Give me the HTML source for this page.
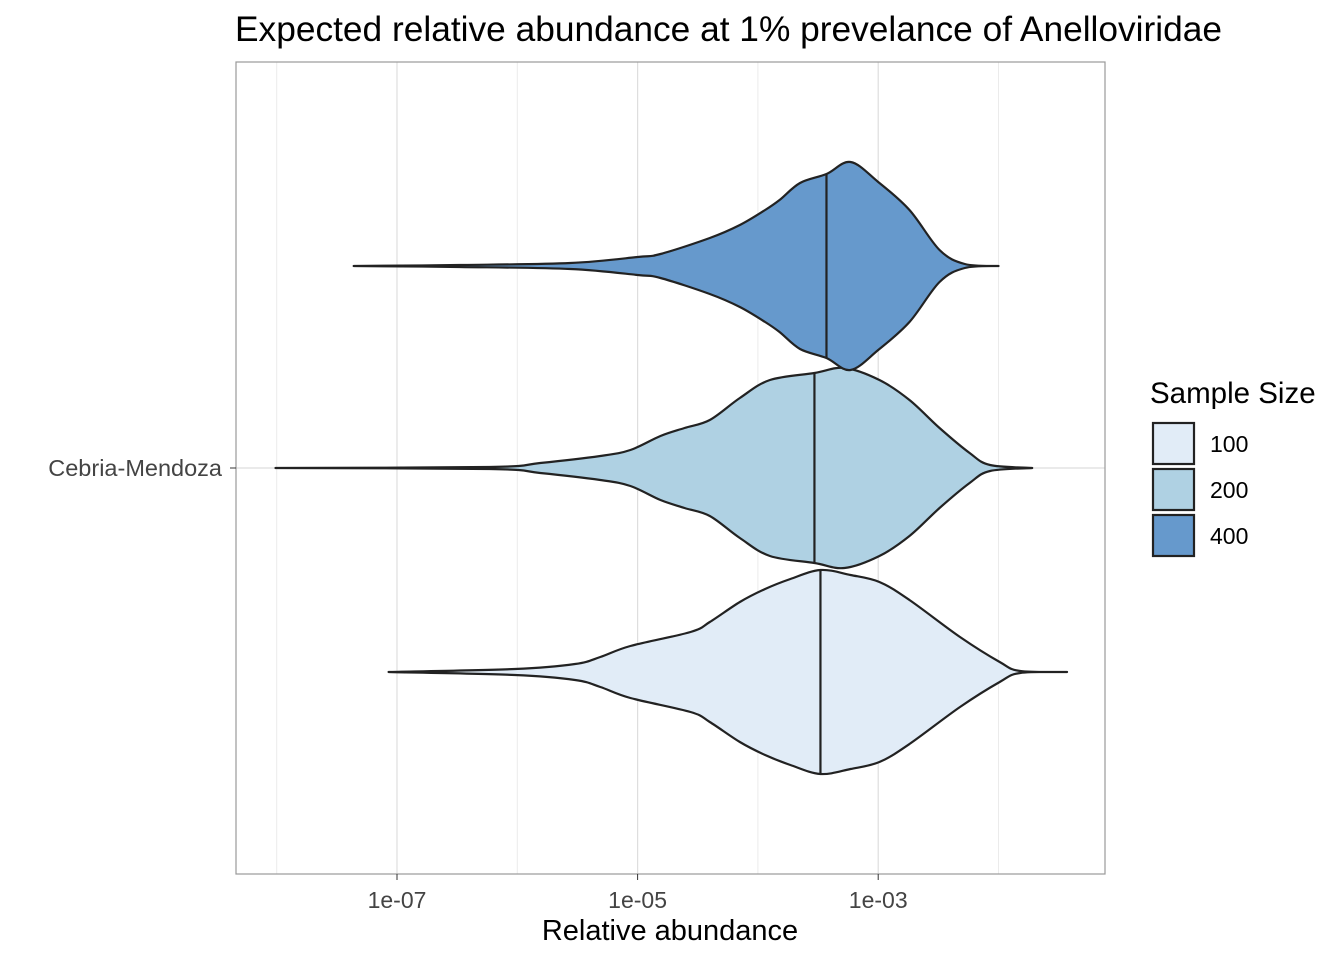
<!DOCTYPE html>
<html><head><meta charset="utf-8"><style>
body{margin:0;background:#fff}
svg text{font-family:"Liberation Sans",Arial,sans-serif}
</style></head><body>
<svg id="chart" width="1344" height="960" viewBox="0 0 1344 960">
<rect width="1344" height="960" fill="#fff"/>
<text x="235" y="41" font-size="35.3" fill="#000">Expected relative abundance at 1% prevelance of Anelloviridae</text>
<g id="grid"></g>
<g id="violins"></g>
<rect x="236" y="62" width="869" height="812" fill="none" stroke="#999" stroke-width="1.2"/>
<g id="xticks"></g>
<text x="222" y="476" font-size="23.5" fill="#444" text-anchor="end">Cebria-Mendoza</text>
<line x1="230" y1="468" x2="236" y2="468" stroke="#333"/>
<text x="670" y="940" font-size="29" fill="#000" text-anchor="middle">Relative abundance</text>
<g id="legend">
<text x="1150" y="403" font-size="29.5" fill="#000">Sample Size</text>
</g>
</svg>
<script>
const groups = ["100","200","400"];
const colors = {"100":"#e1ecf7","200":"#afd1e3","400":"#6699cc"};
const centerLog = {"100":-3.48,"200":-3.53,"400":-3.43};
const log400 = [-7.36,-6.48,-5.56,-5.00,-4.81,-4.40,-4.15,-3.94,-3.82,-3.65,-3.43,-3.23,-3.00,-2.74,-2.49,-2.28,-2.00];
const dens400 = [0,1,3,9,12,28,41,56,66,83,92,104,84,56,16,2,0];
const log200 = [-8.01,-6.23,-5.81,-5.31,-5.06,-4.81,-4.61,-4.40,-4.15,-3.90,-3.53,-3.28,-2.99,-2.74,-2.49,-2.24,-2.07,-1.72];
const dens200 = [0,1,5,12,18,32,40,48,70,88,95,100,88,68,40,15,3,0];
const log100 = [-7.07,-6.02,-5.52,-5.31,-5.06,-4.56,-4.40,-4.15,-3.94,-3.73,-3.48,-3.23,-2.99,-2.74,-2.32,-1.99,-1.82,-1.43];
const dens100 = [0,3,8,15,26,40,50,70,83,93,102,97,90,72,35,10,1,0];
const tickExps = [-7,-5,-3];
const tickLabels = ["1e-07","1e-05","1e-03"];
const minorExps = [-8,-6,-4,-2];

const NS="http://www.w3.org/2000/svg";
const xs = l => 397 + (l + 7) * 120.3;
const ys = {"100":672,"200":468,"400":266};
const ws = d => d * 1.0;
function mk(t,a,p){const e=document.createElementNS(NS,t);for(const k in a)e.setAttribute(k,a[k]);p.appendChild(e);return e;}
const grid=document.getElementById('grid');
minorExps.forEach(e=>{const l=mk('line',{x1:xs(e),x2:xs(e),y1:62,y2:874,stroke:'#ebebeb','stroke-width':1},grid);

});
tickExps.forEach(e=>{const l=mk('line',{x1:xs(e),x2:xs(e),y1:62,y2:874,stroke:'#dedede','stroke-width':1.2},grid);

});
const hl=mk('line',{x1:236,x2:1105,y1:468,y2:468,stroke:'#dedede','stroke-width':1.2},grid);


const xt=document.getElementById('xticks');
tickExps.forEach((e,i)=>{
 const t=mk('line',{x1:xs(e),x2:xs(e),y1:874,y2:880,stroke:'#333'},xt);
 
 
 const tx=mk('text',{x:xs(e),y:908,'font-size':23,fill:'#444','text-anchor':'middle'},xt);
 tx.textContent=tickLabels[i];
 
 
});
function smooth(pts){let d=`M${pts[0][0]},${pts[0][1]}`;
 for(let i=0;i<pts.length-1;i++){const p0=pts[Math.max(0,i-1)],p1=pts[i],p2=pts[i+1],p3=pts[Math.min(pts.length-1,i+2)];
 d+=` C${p1[0]+(p2[0]-p0[0])/6},${p1[1]+(p2[1]-p0[1])/6} ${p2[0]-(p3[0]-p1[0])/6},${p2[1]-(p3[1]-p1[1])/6} ${p2[0]},${p2[1]}`;}
 return d;}
const data={"100":[log100,dens100],"200":[log200,dens200],"400":[log400,dens400]};
const vg=document.getElementById('violins');
groups.forEach(g=>{
 const [L,D]=data[g];const cy=ys[g];
 const top=L.map((l,i)=>[xs(l),cy-ws(D[i])]);
 const bot=L.map((l,i)=>[xs(l),cy+ws(D[i])]).reverse();
 let d=smooth(top)+' '+smooth(bot).replace(/^M/,'L')+' Z';
 const p=mk('path',{d:d,fill:colors[g],stroke:'#222','stroke-width':2.2,'stroke-linejoin':'round'},vg);
 
 
 const c=centerLog[g];let w=0;
 for(let i=0;i<L.length-1;i++){if(c>=L[i]&&c<=L[i+1]){const f=(c-L[i])/(L[i+1]-L[i]);w=ws(D[i]+f*(D[i+1]-D[i]));}}
 const m=mk('line',{x1:xs(c),x2:xs(c),y1:cy-w,y2:cy+w,stroke:'#222','stroke-width':2.2},vg);
 
 
});
const lg=document.getElementById('legend');
groups.forEach((g,i)=>{
 const y=423+i*46;
 const r=mk('rect',{x:1153,y:y,width:41,height:41,fill:colors[g],stroke:'#222','stroke-width':2.2},lg);
 
 
 const t=mk('text',{x:1210,y:y+29,'font-size':23,fill:'#000'},lg);
 t.textContent=g;
 
 
});
</script>
</body></html>
